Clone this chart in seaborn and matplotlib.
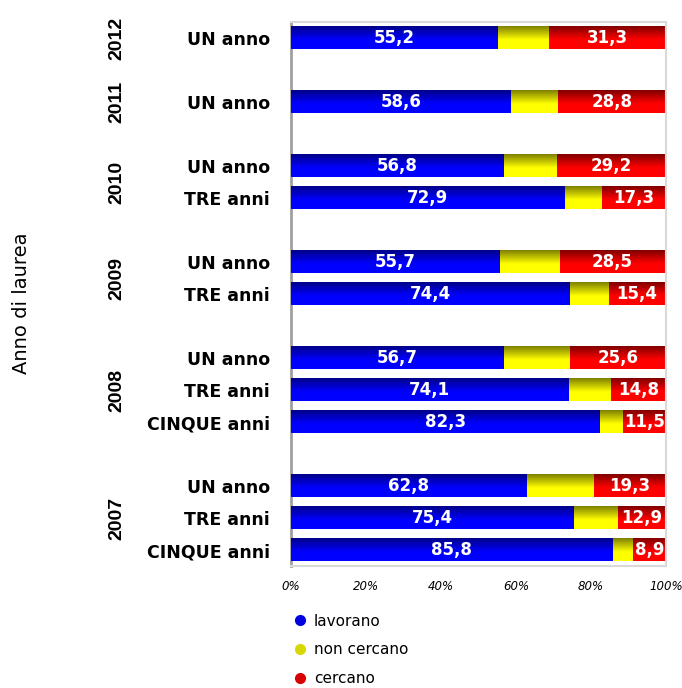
import numpy as np
import pandas as pd
import matplotlib.pyplot as plt
import seaborn as sns
from matplotlib.lines import Line2D

# values (percent)
anno = ["2012", "2011", "2010", "2010", "2009", "2009",
        "2008", "2008", "2008", "2007", "2007", "2007"]
durata = ["UN anno", "UN anno", "UN anno", "TRE anni", "UN anno", "TRE anni",
          "UN anno", "TRE anni", "CINQUE anni", "UN anno", "TRE anni", "CINQUE anni"]
lavorano = [55.2, 58.6, 56.8, 72.9, 55.7, 74.4, 56.7, 74.1, 82.3, 62.8, 75.4, 85.8]
non_cercano = [13.5, 12.6, 14.0, 9.8, 15.8, 10.2, 17.7, 11.1, 6.2, 17.9, 11.7, 5.3]
cercano = [31.3, 28.8, 29.2, 17.3, 28.5, 15.4, 25.6, 14.8, 11.5, 19.3, 12.9, 8.9]
series = ["lavorano", "non cercano", "cercano"]
xticks = [0, 20, 40, 60, 80, 100]

# row slots: one empty slot between year groups
pos = []
p = 0
for i, a in enumerate(anno):
    if i > 0 and a != anno[i - 1]:
        p += 2
    elif i > 0:
        p += 1
    pos.append(p)

df = pd.DataFrame({"anno": anno, "durata": durata, "pos": pos,
                   "lav": lavorano, "non": non_cercano, "cer": cercano})
df["lav_non"] = df["lav"] + df["non"]
df["tot"] = df["lav_non"] + df["cer"]

sns.set_theme(style="white")
plt.rcParams["font.family"] = ["DejaVu Sans"]
plt.rcParams["text.color"] = "black"
plt.rcParams["xtick.color"] = "black"
plt.rcParams["ytick.color"] = "black"

fig = plt.figure(figsize=(6.82, 6.88), dpi=100)
ax = fig.add_axes([291 / 682, 1 - 566 / 688, 375 / 682, 544 / 688])

# (column, dark top colour, bright bottom colour)
layers = [("tot", (0.50, 0.0, 0.0), (1.0, 0.0, 0.0)),
          ("lav_non", (0.50, 0.50, 0.0), (1.0, 1.0, 0.0)),
          ("lav", (0.0, 0.0, 0.53), (0.0, 0.0, 1.0))]

for z, (col, dark, bright) in enumerate(layers):
    n0 = len(ax.patches)
    sns.barplot(data=df, x=col, y="pos", orient="h", native_scale=True,
                width=0.69, errorbar=None, color=bright, ax=ax)
    t = np.clip(np.linspace(0, 1, 64) / 0.6, 0, 1)
    grad = np.array(dark)[None, :] * (1 - t)[:, None] + np.array(bright)[None, :] * t[:, None]
    img = grad[:, None, :]
    for patch in ax.patches[n0:]:
        x0, w = patch.get_x(), patch.get_width()
        y0, h = patch.get_y(), patch.get_height()
        ax.imshow(img, extent=(x0, x0 + w, y0 + h, y0), origin="upper",
                  aspect="auto", zorder=2 + z, interpolation="bilinear")
        patch.set_visible(False)

fmt = lambda v: f"{v:.1f}".replace(".", ",")
for _, r in df.iterrows():
    ax.text(r["lav"] / 2, r["pos"], fmt(r["lav"]), ha="center", va="center",
            color="white", fontsize=12, fontweight="bold", zorder=10)
    ax.text(r["tot"] - r["cer"] / 2, r["pos"], fmt(r["cer"]), ha="center", va="center",
            color="white", fontsize=12, fontweight="bold", zorder=10)

ax.set_xlim(0, 100)
ax.set_ylim(16.5, -0.5)
ax.set_xticks(xticks)
ax.set_xticklabels([f"{v}%" for v in xticks], fontsize=8.5, style="italic")
ax.set_yticks(df["pos"])
ax.set_yticklabels(df["durata"], fontsize=12.5, fontweight="bold")
ax.tick_params(axis="both", length=0)
ax.tick_params(axis="y", pad=15)
ax.tick_params(axis="x", pad=10)
ax.set_xlabel("")
ax.set_ylabel("")

for s in ["top", "right", "bottom"]:
    ax.spines[s].set_color("#d9d9d9")
    ax.spines[s].set_linewidth(1.5)
ax.spines["left"].set_color("#a0a0a0")
ax.spines["left"].set_linewidth(2)

# year labels, centered on each group
for a, g in df.groupby("anno", sort=False):
    ax.text(-0.464, g["pos"].mean(), a, transform=ax.get_yaxis_transform(),
            rotation=90, ha="center", va="center", fontsize=14,
            fontweight="bold", family="Liberation Sans")

fig.text(22 / 682, 1 - 303 / 688, "Anno di laurea", rotation=90,
         ha="center", va="center", fontsize=14)

handles = [Line2D([], [], marker="o", ls="", markersize=7, color=c)
           for c in ["#0000e0", "#d8d800", "#d80000"]]
fig.legend(handles, series, loc="upper left", bbox_to_anchor=(277 / 682, 1 - 600 / 688),
           frameon=False, fontsize=11, handletextpad=0.3, labelspacing=0.9,
           handlelength=1.2)

fig.savefig("out.png", dpi=100)
